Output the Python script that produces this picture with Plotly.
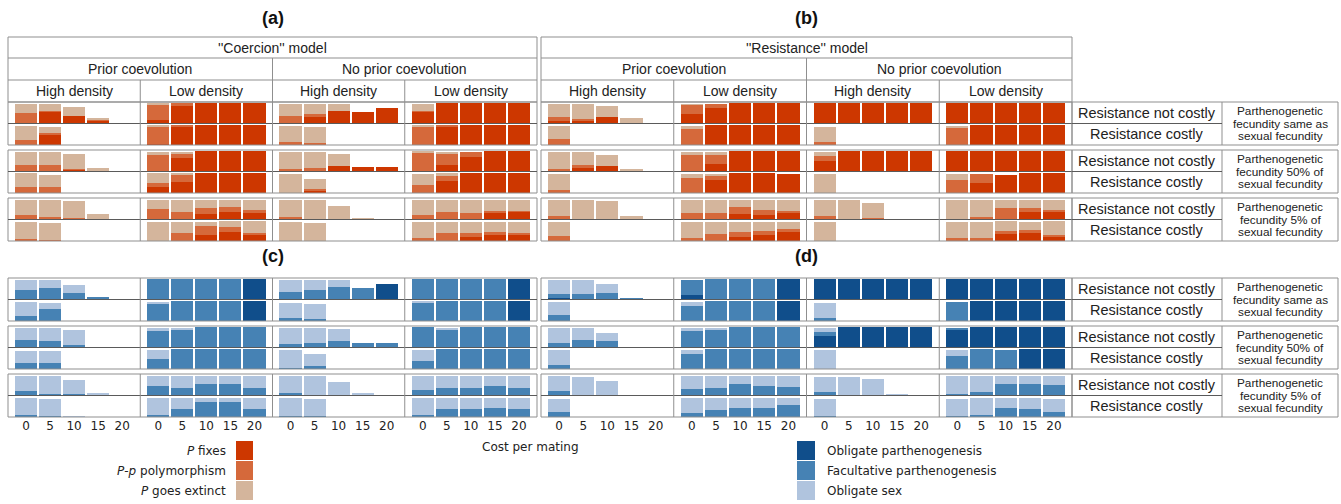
import plotly.graph_objects as go

W, H = 1341, 504
costs = [0, 5, 10, 15, 20]
cost_labels = ["0", "5", "10", "15", "20"]

# Column groups (order): prior/high, prior/low, no-prior/high, no-prior/low
# Rows per column group: fec same (not costly, costly), fec 50% (nc, c), fec 5% (nc, c)
Z = [0, 0, 0, 0, 0]

# ---------------- Panel (a): "Coercion" model, red outcomes ----------------
a_fixes = [
    [[0, 0.62, 0.37, 0.17, 0], [0, 0.5, 0, 0, 0], [0, 0, 0.08, 0, 0], Z, Z, Z],
    [[0.15, 0.92, 1, 1, 1], [0.03, 0.93, 1, 1, 1], [0, 0.68, 1, 1, 1], [0.28, 0.55, 1, 1, 1],
     [0, 0, 0.28, 0.35, 0.33], [0, 0, 0.3, 0.43, 0.3]],
    [[0, 0.37, 0.6, 0.57, 0.77], [0, 0.05, 0, 0, 0], [0, 0, 0.27, 0.22, 0.22], [0, 0.13, 0, 0, 0], Z, Z],
    [[0.6, 1, 1, 1, 1], [0, 0.95, 1, 1, 1], [0, 0.3, 0.72, 1, 1], [0, 0.58, 1, 1, 1],
     [0, 0, 0, 0.3, 0.38], [0, 0, 0.22, 0.3, 0.3]],
]
a_poly = [
    [[0.5, 0.02, 0, 0.03, 0], [0.27, 0.12, 0, 0, 0], [0.32, 0.3, 0.02, 0.02, 0], [0.3, 0.28, 0, 0, 0],
     [0.2, 0.1, 0.07, 0.02, 0], [0.1, 0.05, 0, 0, 0]],
    [[0.78, 0.08, 0, 0, 0], [0.9, 0.07, 0, 0, 0], [0.8, 0.2, 0, 0, 0], [0.22, 0.42, 0, 0, 0],
     [0.5, 0.37, 0.27, 0.25, 0.12], [0.02, 0.42, 0.45, 0.28, 0.12]],
    [[0.37, 0.08, 0, 0, 0], [0.15, 0.05, 0, 0, 0], [0.1, 0.15, 0, 0, 0], [0, 0.07, 0, 0, 0],
     [0.13, 0.02, 0, 0, 0], Z],
    [[0.02, 0, 0, 0, 0], [0.93, 0.05, 0, 0, 0], [0.97, 0.6, 0.26, 0, 0], [0.38, 0.25, 0, 0, 0],
     [0.22, 0.35, 0.33, 0.12, 0.03], [0.13, 0.38, 0.2, 0.17, 0.1]],
]
a_ext = [
    [[0.48, 0.33, 0.46, 0.08, 0], [0.7, 0.3, 0, 0, 0], [0.66, 0.68, 0.78, 0.15, 0], [0.68, 0.64, 0, 0, 0],
     [0.78, 0.88, 0.83, 0.25, 0], [0.87, 0.87, 0.02, 0, 0]],
    [[0.07, 0, 0, 0, 0], [0.07, 0, 0, 0, 0], [0.18, 0.1, 0, 0, 0], [0.48, 0.03, 0, 0, 0],
     [0.48, 0.6, 0.43, 0.38, 0.53], [0.95, 0.55, 0.22, 0.27, 0.56]],
    [[0.6, 0.5, 0.35, 0, 0], [0.78, 0.8, 0, 0, 0], [0.85, 0.8, 0.6, 0, 0], [0.97, 0.52, 0, 0, 0],
     [0.83, 0.95, 0.68, 0.08, 0], [0.97, 0.9, 0, 0, 0]],
    [[0.35, 0, 0, 0, 0], [0.05, 0, 0, 0, 0], [0.03, 0.07, 0, 0, 0], [0.58, 0.15, 0, 0, 0],
     [0.75, 0.62, 0.63, 0.55, 0.55], [0.83, 0.58, 0.53, 0.5, 0.57]],
]

# ---------------- Panel (b): "Resistance" model, red outcomes ----------------
b_fixes = [
    [[0.1, 0.17, 0.3, 0, 0], Z, [0, 0.15, 0.28, 0, 0], Z, Z, Z],
    [[0.45, 0.75, 1, 1, 1], [0, 1, 1, 1, 1], [0, 0.38, 1, 1, 1], [0, 0.63, 1, 1, 0.97],
     [0, 0, 0.27, 0.22, 0.3], [0, 0, 0.22, 0.3, 0.5]],
    [[1, 1, 1, 1, 1], Z, [0.5, 1, 1, 1, 1], Z, Z, Z],
    [[1, 1, 1, 1, 1], [0, 1, 1, 1, 1], [1, 1, 1, 1, 1], [0, 0.52, 0.92, 1, 1],
     [0, 0, 0, 0.35, 0.38], [0, 0, 0.33, 0.38, 0.27]],
]
b_poly = [
    [[0.22, 0.03, 0, 0, 0], [0.3, 0, 0, 0, 0], [0.12, 0.17, 0, 0, 0], [0.17, 0, 0, 0, 0],
     [0.15, 0, 0, 0, 0], [0.25, 0, 0, 0, 0]],
    [[0.5, 0.22, 0, 0, 0], [0.8, 0, 0, 0, 0], [0.8, 0.45, 0, 0, 0], [0.75, 0.22, 0, 0, 0],
     [0.3, 0.3, 0.33, 0.25, 0.12], [0.13, 0.33, 0.25, 0.2, 0.08]],
    [Z, [0.15, 0, 0, 0, 0], [0.27, 0, 0, 0, 0], Z, [0.18, 0, 0.08, 0, 0], Z],
    [Z, [0.9, 0, 0, 0, 0], Z, [0.67, 0.45, 0, 0, 0],
     [0, 0.13, 0.55, 0.2, 0.08], [0.13, 0.17, 0.17, 0.17, 0.02]],
]
b_ext = [
    [[0.63, 0.75, 0.55, 0.27, 0], [0.67, 0, 0, 0, 0], [0.85, 0.63, 0.55, 0.13, 0], [0.8, 0, 0, 0, 0],
     [0.8, 0.97, 0.9, 0.17, 0], [0.72, 0, 0, 0, 0]],
    [[0.02, 0, 0, 0, 0], [0.17, 0, 0, 0, 0], [0.17, 0.13, 0, 0, 0], [0.22, 0.12, 0, 0, 0],
     [0.67, 0.67, 0.38, 0.5, 0.55], [0.83, 0.63, 0.5, 0.47, 0.38]],
    [Z, [0.75, 0, 0, 0, 0], [0.2, 0, 0, 0, 0], [0.97, 0, 0, 0, 0],
     [0.78, 0.97, 0.75, 0, 0], [0.97, 0, 0, 0, 0]],
    [Z, [0.07, 0, 0, 0, 0], Z, [0.3, 0, 0, 0, 0],
     [0.97, 0.83, 0.42, 0.42, 0.5], [0.83, 0.8, 0.5, 0.42, 0.7]],
]

# ---------------- Panel (c): "Coercion" model, blue outcomes ----------------
c_oblpar = [
    [Z, Z, Z, Z, Z, Z],
    [[0, 0, 0, 0, 1], [0, 0, 0, 0, 1], Z, Z, Z, Z],
    [[0, 0, 0, 0, 0.78], Z, Z, Z, Z, Z],
    [[0, 0, 0, 0, 1], [0, 0, 0, 0, 1], Z, Z, Z, Z],
]
c_facpar = [
    [[0.47, 0.58, 0.33, 0.12, 0], [0.27, 0.6, 0, 0, 0], [0.35, 0.32, 0.13, 0, 0], [0.3, 0.28, 0, 0, 0],
     [0.2, 0.08, 0.07, 0.04, 0], [0.1, 0.06, 0, 0, 0]],
    [[1, 1, 1, 1, 0], [0.9, 1, 1, 1, 0], [0.82, 0.87, 1, 1, 1], [0.5, 1, 1, 1, 1],
     [0.47, 0.37, 0.55, 0.55, 0.37], [0.08, 0.38, 0.75, 0.75, 0.38]],
    [[0.38, 0.47, 0.62, 0.58, 0], [0.17, 0.08, 0, 0, 0], [0.15, 0.2, 0.3, 0.22, 0.22], [0.07, 0.15, 0, 0, 0],
     [0.13, 0.05, 0, 0, 0], [0.03, 0.03, 0, 0, 0]],
    [[1, 1, 1, 1, 0], [0.95, 1, 1, 1, 0], [1, 0.85, 1, 1, 1], [0.38, 1, 1, 1, 1],
     [0.25, 0.37, 0.37, 0.45, 0.37], [0.12, 0.38, 0.38, 0.43, 0.38]],
]
c_oblsex = [
    [[0.5, 0.38, 0.37, 0, 0], [0.7, 0.28, 0, 0, 0], [0.62, 0.65, 0.75, 0, 0], [0.62, 0.62, 0, 0, 0],
     [0.75, 0.87, 0.7, 0.04, 0], [0.83, 0.85, 0.03, 0, 0]],
    [Z, [0.07, 0, 0, 0, 0], [0.15, 0.1, 0, 0, 0], [0.45, 0, 0, 0, 0],
     [0.5, 0.6, 0.42, 0.42, 0.6], [0.87, 0.55, 0.2, 0.2, 0.55]],
    [[0.6, 0.5, 0.35, 0, 0], [0.72, 0.75, 0, 0, 0], [0.83, 0.78, 0.6, 0, 0], [0.88, 0.62, 0, 0, 0],
     [0.83, 0.9, 0.68, 0.12, 0], [0.9, 0.88, 0, 0, 0]],
    [Z, [0.03, 0, 0, 0, 0], [0, 0.12, 0, 0, 0], [0.58, 0, 0, 0, 0],
     [0.7, 0.6, 0.6, 0.52, 0.6], [0.83, 0.55, 0.55, 0.5, 0.55]],
]

# ---------------- Panel (d): "Resistance" model, blue outcomes ----------------
d_oblpar = [
    [[0.08, 0, 0, 0, 0], Z, Z, Z, Z, Z],
    [[0.2, 0, 0, 0, 1], [0, 0, 0, 0, 1], Z, Z, Z, Z],
    [[1, 1, 1, 1, 1], Z, [0.55, 1, 1, 1, 1], Z, Z, Z],
    [[1, 1, 1, 1, 1], [0, 1, 1, 1, 1], [0.92, 1, 1, 1, 1], [0, 0, 0.05, 1, 1], Z, Z],
]
d_facpar = [
    [[0.2, 0.25, 0.3, 0.04, 0], [0.3, 0, 0, 0, 0], [0.2, 0.38, 0.32, 0, 0], [0.2, 0, 0, 0, 0],
     [0.2, 0.05, 0, 0, 0], [0.25, 0, 0, 0, 0]],
    [[0.77, 1, 1, 1, 0], [0.77, 1, 1, 1, 0], [0.82, 0.87, 1, 1, 1], [0.75, 1, 1, 1, 1],
     [0.33, 0.37, 0.58, 0.47, 0.42], [0.18, 0.33, 0.43, 0.43, 0.6]],
    [Z, [0.17, 0, 0, 0, 0], [0.22, 0, 0, 0, 0], Z, [0.17, 0, 0.05, 0, 0], [0.03, 0, 0, 0, 0]],
    [Z, [0.97, 0, 0, 0, 0], [0.07, 0, 0, 0, 0], [0.67, 1, 0.92, 0, 0],
     [0.07, 0.15, 0.58, 0.58, 0.5], [0.07, 0.12, 0.47, 0.38, 0.25]],
]
d_oblsex = [
    [[0.67, 0.72, 0.45, 0, 0], [0.67, 0, 0, 0, 0], [0.78, 0.6, 0.4, 0, 0], [0.73, 0, 0, 0, 0],
     [0.75, 0.88, 0.72, 0, 0], [0.67, 0, 0, 0, 0]],
    [Z, [0.2, 0, 0, 0, 0], [0.15, 0.1, 0, 0, 0], [0.18, 0, 0, 0, 0],
     [0.62, 0.6, 0.37, 0.5, 0.55], [0.75, 0.6, 0.5, 0.5, 0.35]],
    [Z, [0.72, 0, 0, 0, 0], [0.2, 0, 0, 0, 0], [0.95, 0, 0, 0, 0],
     [0.75, 0.92, 0.78, 0.04, 0], [0.88, 0, 0, 0, 0]],
    [Z, Z, Z, [0.27, 0, 0, 0, 0],
     [0.88, 0.8, 0.37, 0.37, 0.45], [0.85, 0.83, 0.47, 0.55, 0.67]],
]

red_names = ["<i>P</i> fixes", "<i>P</i>-<i>p</i> polymorphism", "<i>P</i> goes extinct"]
blue_names = ["Obligate parthenogenesis", "Facultative parthenogenesis", "Obligate sex"]
red_colors = ["#CD3700", "#D5693B", "#D4B59C"]
blue_colors = ["#104E8B", "#4682B4", "#B0C4DE"]
panel_letters = ["(a)", "(b)", "(c)", "(d)"]
model_titles = ["''Coercion'' model", "''Resistance'' model"]
coev_titles = ["Prior coevolution", "No prior coevolution"]
density_titles = ["High density", "Low density"]
resist_labels = ["Resistance not costly", "Resistance costly"]
fec_labels = [
    ["Parthenogenetic", "fecundity same as", "sexual fecundity"],
    ["Parthenogenetic", "fecundity 50% of", "sexual fecundity"],
    ["Parthenogenetic", "fecundity 5% of", "sexual fecundity"],
]

# ---------------- geometry (pixels) ----------------
PX = [(8, 537), (541, 1072)]          # left / right panel x extents
TOP_Y = [102, 278]                     # first group top for upper / lower panels
GSTEP, GH = 48, 43
RH = GH / 2
LBL_X0, LBL_XM, LBL_X1 = 1072, 1222, 1338
BORDER = "#8f8f8f"
MID = "#5a5a5a"
HFONT = "Liberation Sans, Arial, sans-serif"
VFONT = "DejaVu Sans, Verdana, sans-serif"


def fx(x):
    return x / W


def fy(y):
    return 1 - y / H


def text(x, y, s, font, xanchor="center"):
    return dict(x=fx(x), y=fy(y), xref="paper", yref="paper", text=s, showarrow=False,
                font=font, xanchor=xanchor, yanchor="middle", borderpad=0)


def hline(x0, x1, y, color):
    return dict(type="line", xref="paper", yref="paper", x0=fx(x0), x1=fx(x1),
                y0=fy(y), y1=fy(y), line=dict(color=color, width=1))


def vline(x, y0, y1, color):
    return dict(type="line", xref="paper", yref="paper", x0=fx(x), x1=fx(x),
                y0=fy(y1), y1=fy(y0), line=dict(color=color, width=1))


def rect(x0, x1, y0, y1, color):
    return dict(type="rect", xref="paper", yref="paper", x0=fx(x0), x1=fx(x1),
                y0=fy(y1), y1=fy(y0), line=dict(color=color, width=1))


panels = [
    dict(series=[a_fixes, a_poly, a_ext], colors=red_colors, col=0, row=0),
    dict(series=[b_fixes, b_poly, b_ext], colors=red_colors, col=1, row=0),
    dict(series=[c_oblpar, c_facpar, c_oblsex], colors=blue_colors, col=0, row=1),
    dict(series=[d_oblpar, d_facpar, d_oblsex], colors=blue_colors, col=1, row=1),
]

fig = go.Figure()
lay = {}
shapes = []
ann = []
hf = dict(family=HFONT, size=14, color="#222")
n = 0
for pi, p in enumerate(panels):
    x0, x1 = PX[p["col"]]
    cw = (x1 - x0) / 4
    gy0 = TOP_Y[p["row"]]
    for c in range(4):
        for r in range(6):
            n += 1
            g, half = divmod(r, 2)
            left = x0 + c * cw
            right = left + cw
            top = gy0 + g * GSTEP + half * RH
            bottom = top + RH
            sx = "" if n == 1 else str(n)
            xa = dict(domain=[fx(left), fx(right)], range=[-3.75, 23.75], anchor="y" + sx,
                      showgrid=False, zeroline=False, showline=False, fixedrange=True,
                      automargin=False)
            if p["row"] == 1 and r == 5:
                xa.update(tickmode="array", tickvals=costs, ticktext=cost_labels, ticks="",
                          showticklabels=True, tickfont=dict(family=VFONT, size=12, color="#222"))
            else:
                xa.update(visible=False)
            ya = dict(domain=[fy(bottom), fy(top)], range=[0, 1.07], anchor="x" + sx,
                      visible=False, fixedrange=True, automargin=False)
            lay["xaxis" + sx] = xa
            lay["yaxis" + sx] = ya
            for k, ser in enumerate(p["series"]):
                fig.add_trace(go.Bar(
                    x=costs, y=ser[c][r], xaxis="x" + sx, yaxis="y" + sx,
                    marker=dict(color=p["colors"][k], line=dict(width=0)),
                    width=4.6, showlegend=False,
                    name=(red_names if p["row"] == 0 else blue_names)[k],
                ))
    # group boxes
    for g in range(3):
        t = gy0 + g * GSTEP
        b = t + GH
        shapes.append(rect(x0, x1, t, b, BORDER))
        shapes.append(hline(x0, x1, t + RH, MID))
        for c in range(1, 4):
            shapes.append(vline(x0 + c * cw, t, b, BORDER))
    # panel letter
    ly = 18 if p["row"] == 0 else 256
    ann.append(text((x0 + x1) / 2, ly, "<b>" + panel_letters[pi] + "</b>",
                    dict(family=HFONT, size=18, color="#111")))
    # header table for upper panels
    if p["row"] == 0:
        shapes.append(rect(x0, x1, 37, 102, BORDER))
        for yl in (58, 80):
            shapes.append(hline(x0, x1, yl, BORDER))
        shapes.append(vline(x0 + 2 * cw, 58, 102, BORDER))
        for c in (1, 3):
            shapes.append(vline(x0 + c * cw, 80, 102, BORDER))
        ann.append(text((x0 + x1) / 2, 47.5, model_titles[p["col"]], hf))
        for h in range(2):
            ann.append(text(x0 + (2 * h + 1) * cw, 69, coev_titles[h], hf))
        for c in range(4):
            ann.append(text(x0 + (c + 0.5) * cw, 91, density_titles[c % 2], hf))

# right-hand labels
rf = dict(family=HFONT, size=14.5, color="#222")
ff = dict(family=HFONT, size=11.8, color="#222")
for gy0 in TOP_Y:
    for g in range(3):
        t = gy0 + g * GSTEP
        b = t + GH
        shapes.append(rect(LBL_X0, LBL_X1, t, b, BORDER))
        shapes.append(vline(LBL_XM, t, b, BORDER))
        shapes.append(hline(LBL_X0, LBL_XM, t + RH, MID))
        for h in range(2):
            ann.append(text((LBL_X0 + LBL_XM) / 2, t + RH * (h + 0.5), resist_labels[h], rf))
        for li, line_txt in enumerate(fec_labels[g]):
            ann.append(text((LBL_XM + LBL_X1) / 2, t + 9 + 12.6 * li, line_txt, ff))

vf = dict(family=VFONT, size=12, color="#222")
# x-axis caption
ann.append(text(530, 447, "Cost per mating", vf))

# legends (swatches + text)
sw_y = [(441, 460), (461, 480), (481, 500)]
for k in range(3):
    ya0, ya1 = sw_y[k]
    shapes.append(dict(type="rect", xref="paper", yref="paper", x0=fx(236), x1=fx(253),
                       y0=fy(ya1), y1=fy(ya0), fillcolor=red_colors[k], line=dict(width=0)))
    ann.append(text(227, (ya0 + ya1) / 2, red_names[k], vf, xanchor="right"))
    shapes.append(dict(type="rect", xref="paper", yref="paper", x0=fx(797), x1=fx(815),
                       y0=fy(ya1), y1=fy(ya0), fillcolor=blue_colors[k], line=dict(width=0)))
    ann.append(text(826, (ya0 + ya1) / 2, blue_names[k], vf, xanchor="left"))

fig.update_layout(
    width=W, height=H, autosize=False,
    margin=dict(l=0, r=0, t=0, b=0, autoexpand=False),
    paper_bgcolor="white", plot_bgcolor="rgba(0,0,0,0)",
    barmode="stack", showlegend=False,
    shapes=shapes, annotations=ann,
    **lay,
)
fig.write_html("out.html", config={"displayModeBar": False},
               post_script="document.body.style.margin='0px';")
